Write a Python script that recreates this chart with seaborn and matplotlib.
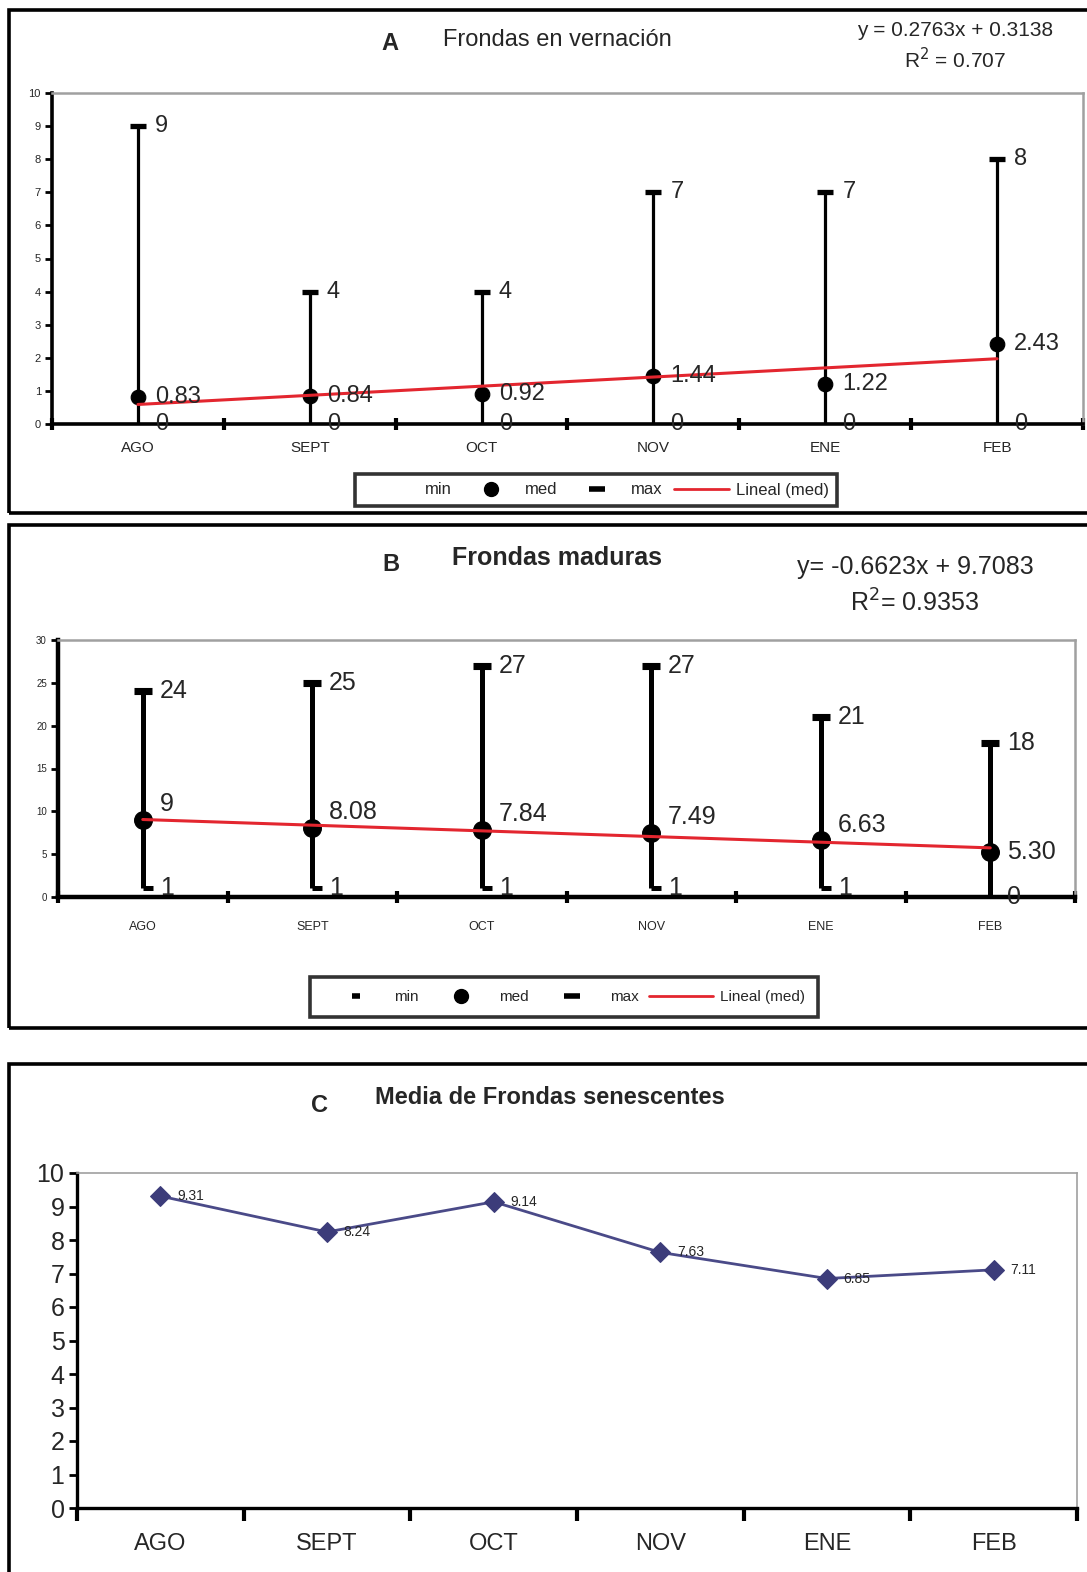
import numpy as np
import pandas as pd
import matplotlib
matplotlib.use('Agg')
import matplotlib.pyplot as plt
from matplotlib.patches import Rectangle
from matplotlib.lines import Line2D
from matplotlib import font_manager
import seaborn as sns

meses = ['AGO', 'SEPT', 'OCT', 'NOV', 'ENE', 'FEB']

# A - frondas en vernacion
a_min = [0, 0, 0, 0, 0, 0]
a_med = [0.83, 0.84, 0.92, 1.44, 1.22, 2.43]
a_max = [9, 4, 4, 7, 7, 8]
a_tend = [0.2763, 0.3138]
a_eq = ['y = 0.2763x + 0.3138', 'R$^2$ = 0.707']

# B - frondas maduras
b_min = [1, 1, 1, 1, 1, 0]
b_med = [9, 8.08, 7.84, 7.49, 6.63, 5.30]
b_max = [24, 25, 27, 27, 21, 18]
b_tend = [-0.6623, 9.7083]
b_eq = ['y= -0.6623x + 9.7083', 'R$^2$= 0.9353']

# C - media de frondas senescentes
c_media = [9.31, 8.24, 9.14, 7.63, 6.85, 7.11]

sns.set_style('white')
avail = {f.name for f in font_manager.fontManager.ttflist}
narrow = 'Liberation Sans Narrow' if 'Liberation Sans Narrow' in avail else 'Liberation Sans'
plt.rcParams['font.family'] = [narrow, 'DejaVu Sans']

W, H = 1087, 1572
fig = plt.figure(figsize=(W / 100, H / 100), dpi=100)


def fx(px):
    return px / W


def fy(py):
    return 1 - py / H


def axes_px(l, t, r, b):
    return fig.add_axes([fx(l), fy(b), (r - l) / W, (b - t) / H])


def fmt(v):
    return str(int(v)) if float(v).is_integer() else f'{v:.2f}'


def caja(top, bottom):
    fig.add_artist(Rectangle((fx(9), fy(bottom)), 1.1, (bottom - top) / H,
                             transform=fig.transFigure, fill=False,
                             ec='black', lw=2.6))


def estilo_ejes(ax, ymax, ystep, yfs, xfs, lw_spine, xpad):
    ax.set_xlim(-0.5, 5.5)
    ax.set_ylim(0, ymax)
    ax.set_xticks(range(6))
    ax.set_xticklabels(meses, fontsize=xfs)
    ax.set_xticks(np.arange(-0.5, 6, 1), minor=True)
    ax.set_yticks(np.arange(0, ymax + 1, ystep))
    ax.tick_params(axis='y', labelsize=yfs, direction='out', length=5,
                   width=2, color='black', left=True, pad=3)
    ax.tick_params(axis='x', which='major', length=0, pad=xpad)
    ax.tick_params(axis='x', which='minor', direction='inout', length=9,
                   width=3, color='black', bottom=True)
    for s in ['left', 'bottom']:
        ax.spines[s].set_color('black')
        ax.spines[s].set_linewidth(lw_spine)
    for s in ['top', 'right']:
        ax.spines[s].set_color('#a0a0a0')
        ax.spines[s].set_linewidth(1.8)
    ax.set_xlabel('')
    ax.set_ylabel('')


def rango(ax, mins, meds, maxs, tend, lw, capw, minmark, dy_med, fs, sdot):
    x = np.arange(6)
    ax.vlines(x, mins, maxs, color='black', lw=lw, zorder=2)
    ax.plot(x, maxs, ls='none', marker='_', ms=capw, mew=lw + 1.5,
            color='black', zorder=3)
    if minmark:
        ax.plot(x + 0.03, mins, ls='none', marker='_', ms=capw * 0.6,
                mew=lw, color='black', zorder=3)
    sns.scatterplot(x=x, y=meds, color='black', s=sdot, edgecolor='black',
                    zorder=4, ax=ax, legend=False)
    t = np.polyval(tend, x + 1)
    sns.lineplot(x=x, y=t, color='#e3262f', lw=2.2, ax=ax, zorder=5,
                 legend=False)
    for i in range(6):
        ax.text(x[i] + 0.1, maxs[i], fmt(maxs[i]), fontsize=fs,
                va='center', ha='left')
        ax.text(x[i] + 0.1, mins[i], fmt(mins[i]), fontsize=fs,
                va='center', ha='left')
        dy = dy_med if i < 5 else 0
        ax.text(x[i] + 0.1, meds[i] + dy, fmt(meds[i]), fontsize=fs,
                va='center', ha='left', zorder=6)


def leyenda(cx, cy, fs, minmark, hl, bp):
    h_min = Line2D([], [], ls='none', marker='_' if minmark else None,
                   ms=6, mew=4, color='black')
    h_med = Line2D([], [], ls='none', marker='o', ms=10, color='black')
    h_max = Line2D([], [], ls='none', marker='_', ms=12, mew=4,
                   color='black')
    h_lin = Line2D([], [], color='#e3262f', lw=2)
    leg = fig.legend([h_min, h_med, h_max, h_lin],
                     ['min', 'med', 'max', 'Lineal (med)'],
                     loc='center', bbox_to_anchor=(fx(cx), fy(cy)), ncol=4,
                     fontsize=fs, frameon=True, fancybox=False,
                     edgecolor='black', handlelength=hl, handletextpad=0.4,
                     columnspacing=0.7, borderpad=bp)
    leg.get_frame().set_linewidth(2.6)


# ---------- A ----------
caja(10, 513)
axA = axes_px(52, 93, 1083, 424)
rango(axA, a_min, a_med, a_max, a_tend, lw=2.3, capw=11, minmark=False,
      dy_med=0.0, fs=17, sdot=110)
estilo_ejes(axA, 10, 1, 8, 11, 2.6, 12)
fig.text(fx(390), fy(43), 'A', fontsize=17, weight='bold', ha='center',
         va='center')
fig.text(fx(443), fy(40), 'Frondas en vernación', fontsize=17,
         ha='left', va='center')
fig.text(fx(1053), fy(31), a_eq[0], fontsize=15, ha='right', va='center')
fig.text(fx(955), fy(60), a_eq[1], fontsize=15, ha='center', va='center')
leyenda(596, 490, 12, minmark=False, hl=3.3, bp=0.5)

# ---------- B ----------
caja(525, 1028)
axB = axes_px(58, 640, 1075, 897)
rango(axB, b_min, b_med, b_max, b_tend, lw=3.6, capw=13, minmark=True,
      dy_med=1.8, fs=18, sdot=160)
estilo_ejes(axB, 30, 5, 7, 9, 3.2, 17)
fig.text(fx(391), fy(564), 'B', fontsize=17, weight='bold', ha='center',
         va='center')
fig.text(fx(452), fy(558), 'Frondas maduras', fontsize=18, weight='bold',
         ha='left', va='center')
fig.text(fx(915), fy(567), b_eq[0], fontsize=18, ha='center', va='center')
fig.text(fx(915), fy(603), b_eq[1], fontsize=18, ha='center', va='center')
leyenda(564, 997, 11, minmark=True, hl=4.2, bp=0.85)

# ---------- C ----------
caja(1064, 1590)
axC = axes_px(77, 1173, 1077, 1508)
xc = np.arange(6)
sns.lineplot(x=xc, y=c_media, color='#4a4a88', lw=2, marker='D',
             markersize=10, markerfacecolor='#3c3c7a',
             markeredgecolor='#3c3c7a', ax=axC, legend=False)
for i in range(6):
    axC.text(xc[i] + 0.1, c_media[i], fmt(c_media[i]), fontsize=10,
             va='center', ha='left')
estilo_ejes(axC, 10, 1, 18, 17, 2.4, 18)
axC.tick_params(axis='x', which='minor', direction='out', length=9)
axC.tick_params(axis='y', length=6)
axC.spines['top'].set_linewidth(1.2)
axC.spines['right'].set_linewidth(1.2)
fig.text(fx(320), fy(1105), 'C', fontsize=17, weight='bold', ha='center',
         va='center')
fig.text(fx(375), fy(1097), 'Media de Frondas senescentes', fontsize=17,
         weight='bold', ha='left', va='center')

fig.savefig('out.png', dpi=100)
